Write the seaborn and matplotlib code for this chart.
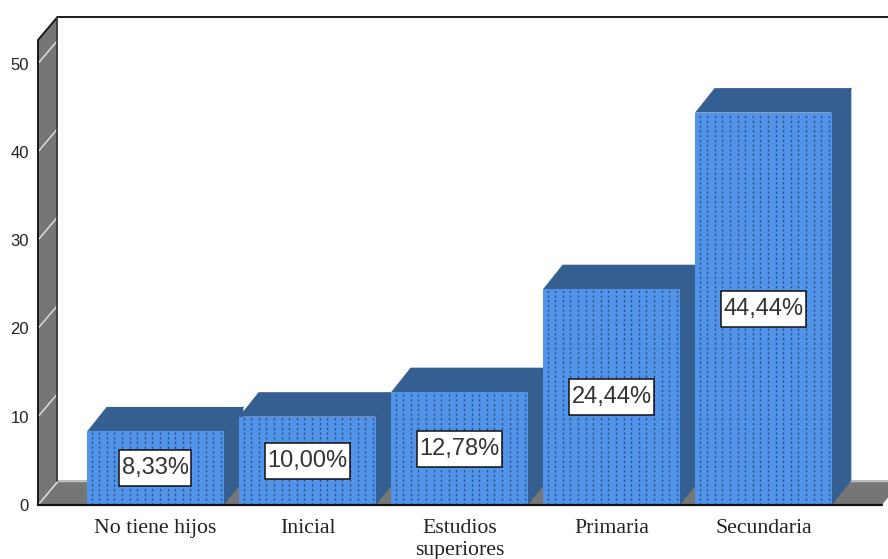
import seaborn as sns
import matplotlib
matplotlib.use("Agg")
import matplotlib.pyplot as plt
from matplotlib.patches import Polygon, Rectangle

categories = ["No tiene hijos", "Inicial", "Estudios\nsuperiores", "Primaria", "Secundaria"]
values = [8.33, 10.00, 12.78, 24.44, 44.44]
y_ticks = [0, 10, 20, 30, 40, 50]

front_color = "#5294EA"
dark_color = "#355E91"
dot_color = "#2C4E7C"
wall_color = "#767676"

sns.set_theme(style="white")
fig = plt.figure(figsize=(8.88, 5.59), dpi=100)
ax = fig.add_axes([38 / 888, 54 / 559, 844 / 888, 465 / 559])
ax.patch.set_alpha(0)

sns.barplot(x=categories, y=values, color=front_color, saturation=1, width=0.9, ax=ax)
ax.set_xlim(-0.773, 4.78)
px_y = 8.83
px_x = 152
ax.set_ylim(0, 465 / px_y)

# depth of the fake 3d look, px -> data units
dx = 19.5 / px_x
dy = 24.5 / px_y
wall_dy = 23 / px_y
x0, x1 = ax.get_xlim()
y1 = ax.get_ylim()[1]


def poly(pts, color, z, edge="none", lw=0):
    ax.add_patch(Polygon(pts, closed=True, facecolor=color, edgecolor=edge, linewidth=lw,
                         zorder=z, clip_on=False))


# left wall and floor
poly([(x0, 0), (x0 + dx, dy), (x0 + dx, y1 + wall_dy), (x0, y1)], wall_color, 1)
poly([(x0, 0), (x1, 0), (x1 + dx, dy), (x0 + dx, dy)], wall_color, 1)
ax.plot([x0 + dx, x1 + dx], [dy, dy], color="#C4C4C4", lw=1, zorder=1.1, clip_on=False)

for t in y_ticks:
    ax.plot([x0, x0 + dx], [t, t + wall_dy], color="#E6E6E6", lw=1, zorder=1.2, clip_on=False)

# frame
ax.plot([x0, x0, x0 + dx, x1 + 2 * dx], [0, y1, y1 + wall_dy, y1 + wall_dy],
        color="#1A1A1A", lw=1.4, zorder=1.5, clip_on=False)
ax.plot([x0 + dx, x0 + dx], [dy, y1 + wall_dy], color="#333333", lw=1.2, zorder=1.5, clip_on=False)

renderer = fig.canvas.get_renderer()
for i, (bar, val) in enumerate(zip(ax.patches, values)):
    left = bar.get_x()
    right = left + bar.get_width()
    z = 3 + 3 * i
    # top and side faces behind the front one
    poly([(left, val), (right, val), (right + dx, val + dy), (left + dx, val + dy)], dark_color, z)
    poly([(right, 0), (right + dx, dy), (right + dx, val + dy), (right, val)], dark_color, z)
    ax.plot([right, right + dx], [val, val + dy], color="#2E5282", lw=0.7, zorder=z + 0.1)
    bar.set_zorder(z + 1)
    bar.set_edgecolor("none")
    bar.set_linewidth(0)

    # stipple columns on the front face
    n_cols = int(bar.get_width() / (7.4 / px_x))
    xs = [left + (k + 0.6) * bar.get_width() / n_cols for k in range(n_cols)]
    dots = ax.vlines(xs, 0, val, colors=dot_color, linewidth=1.0, linestyles=(0, (1.6, 1.8)), zorder=z + 1.5)
    dots.set_capstyle("butt")

    cx = left + bar.get_width() / 2
    label = ax.text(cx, val / 2, f"{val:.2f}%".replace(".", ","),
                    ha="center", va="center", fontsize=17, family="Liberation Sans", color="#333333",
                    zorder=31)
    box_w = (label.get_window_extent(renderer).width + 5) / px_x
    box_h = 36 / px_y
    ax.add_patch(Rectangle((cx - box_w / 2, val / 2 - box_h / 2), box_w, box_h, facecolor="white",
                           edgecolor="#111111", linewidth=1.1, zorder=30))

ax.plot([x0, x1], [0, 0], color="#111111", lw=1.6, zorder=29, clip_on=False)

for s in ax.spines.values():
    s.set_visible(False)
ax.set_yticks(y_ticks)
ax.set_yticklabels([str(t) for t in y_ticks], family="Liberation Sans", fontsize=12, color="#222222")
ax.tick_params(axis="y", length=0, pad=6.5)
ax.tick_params(axis="x", length=0, pad=10)
for lab in ax.get_xticklabels():
    lab.set_family("Liberation Serif")
    lab.set_fontsize(15.7)
    lab.set_color("#222222")
    lab.set_linespacing(1.25)

fig.savefig("out.png", dpi=100, facecolor="white")
